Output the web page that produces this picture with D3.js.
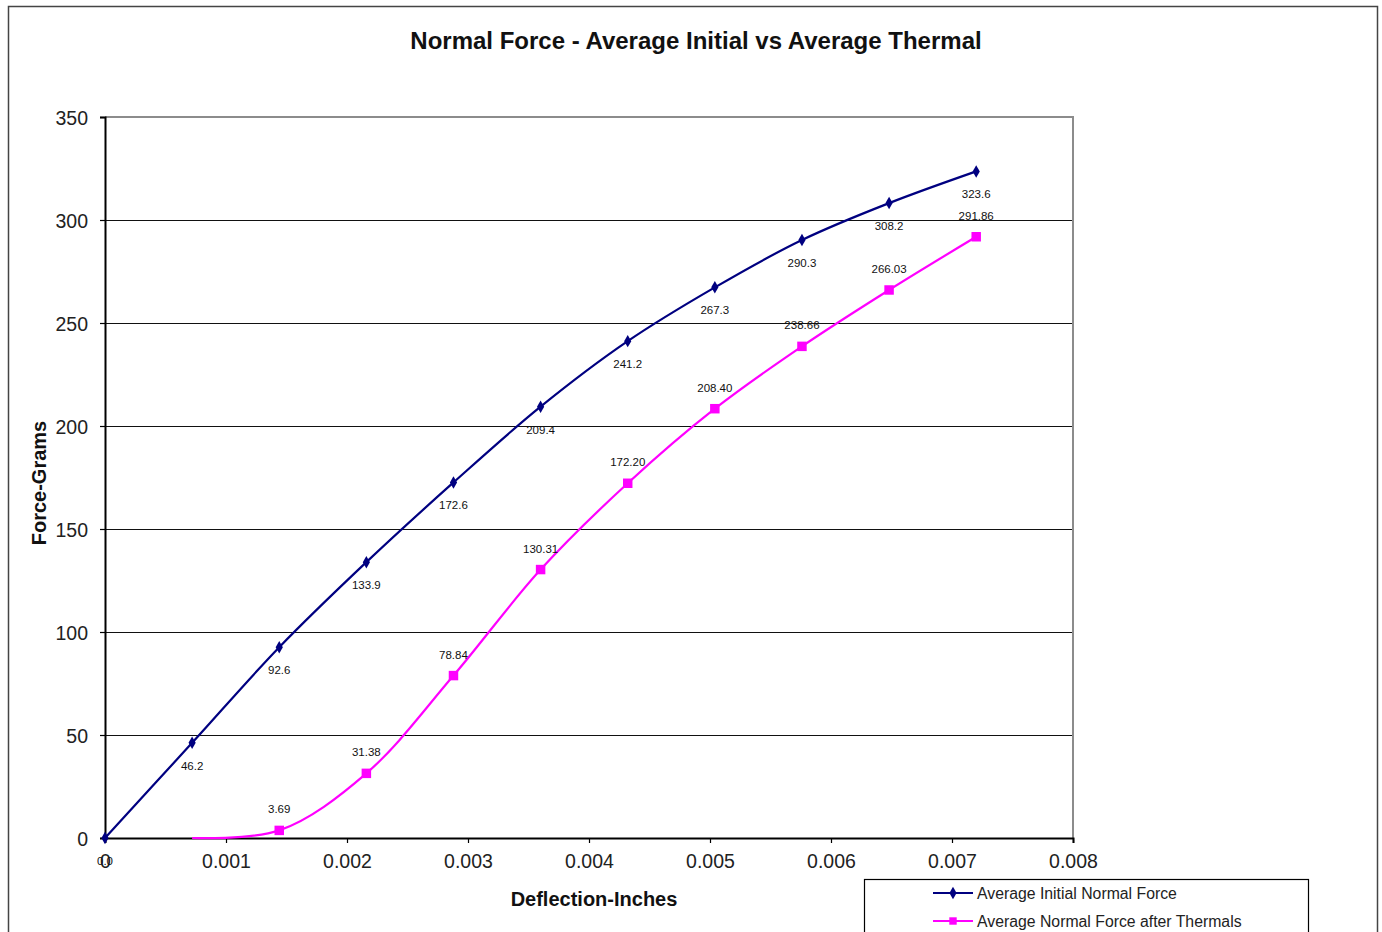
<!DOCTYPE html>
<html>
<head>
<meta charset="utf-8">
<script src="https://cdn.jsdelivr.net/npm/d3@7"></script>
<style>
  body { margin: 0; background: #fff; }
  svg { font-family: "Liberation Sans", Arial, sans-serif; }
</style>
</head>
<body>
<div id="chart"></div>
<script>
// deflection values (inches), shared by both series
const deflection = [0, 0.00072, 0.00144, 0.00216, 0.00288, 0.0036, 0.00432, 0.00504, 0.00576, 0.00648, 0.0072];
const initialForce = [0, 46.2, 92.6, 133.9, 172.6, 209.4, 241.2, 267.3, 290.3, 308.2, 323.6];
// thermal series starts at the second deflection value
const thermalDeflection = [0.00072, 0.00144, 0.00216, 0.00288, 0.0036, 0.00432, 0.00504, 0.00576, 0.00648, 0.0072];
const thermalForce = [0, 3.69, 31.38, 78.84, 130.31, 172.20, 208.40, 238.66, 266.03, 291.86];

const xTicks = [0, 0.001, 0.002, 0.003, 0.004, 0.005, 0.006, 0.007, 0.008];
const yTicks = [0, 50, 100, 150, 200, 250, 300, 350];

const seriesNames = ["Average Initial Normal Force", "Average Normal Force after Thermals"];
const colorInitial = "#000080";
const colorThermal = "#ff00ff";

const width = 1382, height = 932;
const plot = {left: 105, right: 1073, top: 117, bottom: 838};

const svg = d3.select("#chart").append("svg")
    .attr("width", width)
    .attr("height", height);

// outer chart frame
svg.append("rect")
    .attr("x", 8.5).attr("y", 6.5)
    .attr("width", 1369).attr("height", 940)
    .attr("fill", "none")
    .attr("stroke", "#444")
    .attr("stroke-width", 1.5);

const x = d3.scaleLinear().domain([0, 0.008]).range([plot.left, plot.right]);
const y = d3.scaleLinear().domain([0, 350]).range([plot.bottom, plot.top]);

// gridlines
svg.append("g")
    .attr("shape-rendering", "crispEdges")
    .selectAll("line")
    .data(yTicks.filter(d => d > 0 && d < 350))
    .join("line")
    .attr("x1", plot.left).attr("x2", plot.right)
    .attr("y1", d => Math.round(y(d)) + 0.5).attr("y2", d => Math.round(y(d)) + 0.5)
    .attr("stroke", "#111")
    .attr("stroke-width", 1);

// plot area border (grey top/right)
svg.append("path")
    .attr("d", `M${plot.left},${plot.top}H${plot.right}V${plot.bottom}`)
    .attr("fill", "none")
    .attr("stroke", "#8c8c8c")
    .attr("stroke-width", 2);

// axes
const yAxis = svg.append("g")
    .attr("transform", `translate(${plot.left},0)`)
    .call(d3.axisLeft(y).tickValues(yTicks).tickSize(5).tickPadding(12).tickFormat(d3.format("d")));
const xAxis = svg.append("g")
    .attr("transform", `translate(0,${plot.bottom})`)
    .call(d3.axisBottom(x).tickValues(xTicks).tickSize(5).tickPadding(11)
        .tickFormat(d => d === 0 ? "0" : d3.format(".3f")(d)));

[xAxis, yAxis].forEach(a => {
    a.select(".domain").attr("stroke", "#000").attr("stroke-width", 2);
    a.selectAll(".tick line").attr("stroke", "#000").attr("stroke-width", 1.2);
    a.selectAll(".tick text")
        .attr("font-family", "Liberation Sans, Arial, sans-serif")
        .attr("font-size", 19.5)
        .attr("fill", "#222");
});
yAxis.selectAll(".tick text").attr("dy", "0.36em");

// lines
const line = d3.line()
    .x(d => x(d[0]))
    .y(d => y(d[1]))
    .curve(d3.curveCatmullRom.alpha(0.5));

const initialPts = deflection.map((d, i) => [d, initialForce[i]]);
const thermalPts = thermalDeflection.map((d, i) => [d, thermalForce[i]]);

svg.append("path")
    .datum(initialPts)
    .attr("d", line)
    .attr("fill", "none")
    .attr("stroke", colorInitial)
    .attr("stroke-width", 2.2);

svg.append("path")
    .datum(thermalPts)
    .attr("d", line)
    .attr("fill", "none")
    .attr("stroke", colorThermal)
    .attr("stroke-width", 2.2);

// markers
const diamond = d3.symbol().type(d3.symbolDiamond).size(45);
const square = d3.symbol().type(d3.symbolSquare).size(90);

svg.append("g")
    .selectAll("path")
    .data(initialPts)
    .join("path")
    .attr("transform", d => `translate(${x(d[0])},${y(d[1])})`)
    .attr("d", diamond)
    .attr("fill", colorInitial);

svg.append("g")
    .selectAll("path")
    .data(thermalPts.filter(d => d[1] > 0))
    .join("path")
    .attr("transform", d => `translate(${x(d[0])},${y(d[1])})`)
    .attr("d", square)
    .attr("fill", colorThermal);

// data labels
svg.append("g")
    .selectAll("text")
    .data(initialPts)
    .join("text")
    .attr("x", d => x(d[0]))
    .attr("y", d => y(d[1]) + 27)
    .attr("text-anchor", "middle")
    .attr("font-size", 11.5)
    .attr("fill", "#111")
    .text(d => d[1].toFixed(1));

svg.append("g")
    .selectAll("text")
    .data(thermalPts.filter(d => d[1] > 0))
    .join("text")
    .attr("x", d => x(d[0]))
    .attr("y", d => y(d[1]) - 17)
    .attr("text-anchor", "middle")
    .attr("font-size", 11.5)
    .attr("fill", "#111")
    .text(d => d[1].toFixed(2));

// titles
svg.append("text")
    .attr("x", 696).attr("y", 49)
    .attr("text-anchor", "middle")
    .attr("font-size", 24)
    .attr("font-weight", "bold")
    .attr("fill", "#111")
    .text("Normal Force - Average Initial vs Average Thermal");

svg.append("text")
    .attr("x", 594).attr("y", 906)
    .attr("text-anchor", "middle")
    .attr("font-size", 20)
    .attr("font-weight", "bold")
    .attr("fill", "#111")
    .text("Deflection-Inches");

svg.append("text")
    .attr("transform", "translate(46,483) rotate(-90)")
    .attr("text-anchor", "middle")
    .attr("font-size", 20)
    .attr("font-weight", "bold")
    .attr("fill", "#111")
    .text("Force-Grams");

// legend
const legend = svg.append("g");
legend.append("rect")
    .attr("x", 864.5).attr("y", 879.5)
    .attr("width", 444).attr("height", 70)
    .attr("fill", "#fff")
    .attr("stroke", "#000")
    .attr("stroke-width", 1.2);

const legendItems = [
    {name: seriesNames[0], color: colorInitial, sym: diamond},
    {name: seriesNames[1], color: colorThermal, sym: d3.symbol().type(d3.symbolSquare).size(55)}
];
const li = legend.selectAll("g.item")
    .data(legendItems)
    .join("g")
    .attr("transform", (d, i) => `translate(0,${893 + i * 28})`);
li.append("line")
    .attr("x1", 933).attr("x2", 973)
    .attr("stroke", d => d.color)
    .attr("stroke-width", 2.2);
li.append("path")
    .attr("transform", "translate(953,0)")
    .attr("d", d => d.sym())
    .attr("fill", d => d.color);
li.append("text")
    .attr("x", 977)
    .attr("dy", "0.36em")
    .attr("font-size", 15.8)
    .attr("fill", "#222")
    .text(d => d.name);
</script>
</body>
</html>
